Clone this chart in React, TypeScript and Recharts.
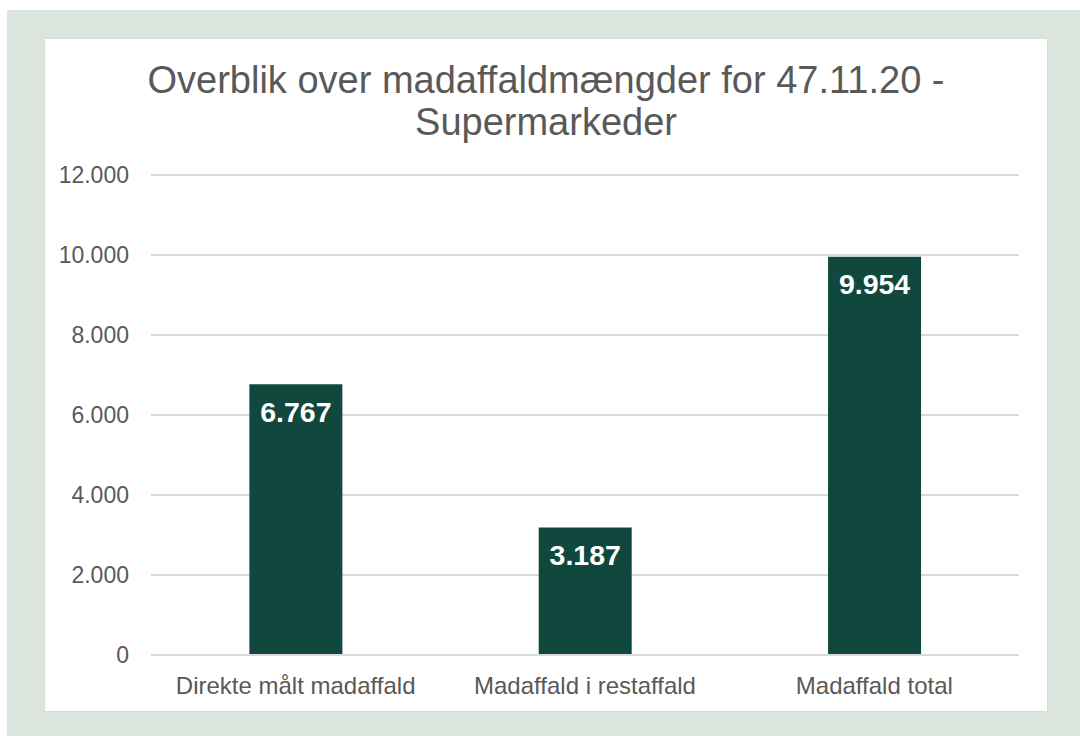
import React from 'react';
import { BarChart, Bar, XAxis, YAxis, CartesianGrid, LabelList } from 'recharts';

const categories = ['Direkte målt madaffald', 'Madaffald i restaffald', 'Madaffald total'];
const values = [6767, 3187, 9954];
const yTicks = [0, 2000, 4000, 6000, 8000, 10000, 12000];
const titleLines = ['Overblik over madaffaldmængder for 47.11.20 -', 'Supermarkeder'];

const data = categories.map((c, i) => ({ name: c, value: values[i] }));

const fmtNum = (v: number) => {
  const s = String(Math.round(v));
  return s.replace(/\B(?=(\d{3})+(?!\d))/g, '.');
};

const FONT = '"Liberation Sans", Arial, sans-serif';
const TEXT = '#595959';

export default function App() {
  return (
    <div style={{ position: 'absolute', left: 0, top: 0, width: 1080, height: 736, background: '#ffffff', overflow: 'hidden', fontFamily: FONT }}>
      <div style={{ position: 'absolute', left: 7, top: 10, width: 1073, height: 726, background: '#dbe5de' }} />
      <div style={{ position: 'absolute', left: 44, top: 38, width: 1002, height: 672, background: '#ffffff', border: '1px solid #d9d9d9' }} />
      <div style={{ position: 'absolute', left: 44, top: 59, width: 1004, textAlign: 'center', color: TEXT, fontSize: 38, lineHeight: '42px' }}>
        {titleLines.map((t) => (
          <div key={t}>{t}</div>
        ))}
      </div>
      <div style={{ position: 'absolute', left: 0, top: 0 }}>
        <BarChart
          width={1080}
          height={736}
          data={data}
          margin={{ top: 175, right: 61, bottom: 0, left: 0 }}
          barCategoryGap="34%"
        >
          <CartesianGrid vertical={false} stroke="#d9d9d9" strokeWidth={2} />
          <XAxis
            dataKey="name"
            axisLine={{ stroke: '#d9d9d9', strokeWidth: 2 }}
            tickLine={false}
            tickSize={0}
            tickMargin={22}
            height={81}
            tick={{ fill: TEXT, fontSize: 24, fontFamily: FONT }}
          />
          <YAxis
            width={151}
            domain={[0, 12000]}
            ticks={yTicks}
            axisLine={false}
            tickLine={false}
            tickSize={0}
            tickMargin={22}
            tickFormatter={(v: number) => fmtNum(v)}
            tick={{ fill: TEXT, fontSize: 23, fontFamily: FONT }}
          />
          <Bar dataKey="value" fill="#10483e" isAnimationActive={false}>
            <LabelList
              dataKey="value"
              position="insideTop"
              offset={17}
              formatter={(v: number) => fmtNum(v)}
              style={{ fill: '#ffffff', fontSize: 28.5, fontWeight: 'bold', fontFamily: FONT }}
            />
          </Bar>
        </BarChart>
      </div>
    </div>
  );
}
